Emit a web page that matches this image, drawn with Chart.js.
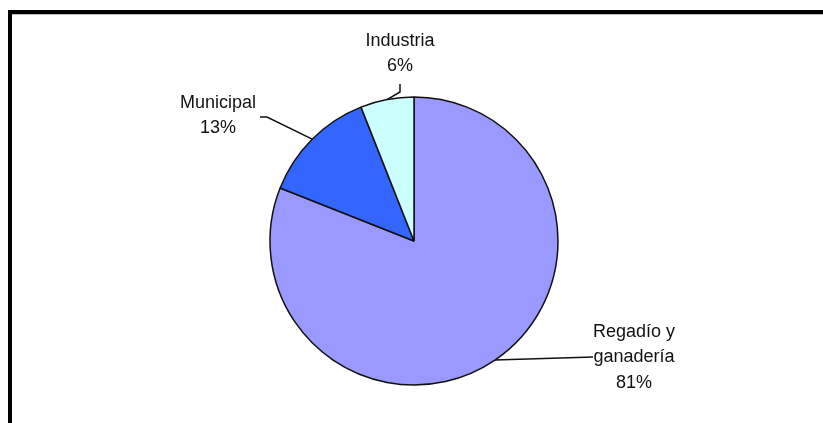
<!DOCTYPE html>
<html lang="es">
<head>
    <meta charset="UTF-8">
    <title>Usos del agua</title>
    <script src="https://cdn.jsdelivr.net/npm/chart.js"></script>
    <style>
        html, body {
            margin: 0;
            padding: 0;
            background: #ffffff;
        }
        .wrap {
            position: relative;
            width: 823px;
            height: 423px;
        }
        .frame {
            position: absolute;
            left: 8px;
            top: 10px;
            right: 0;
            bottom: 0;
            border-top: 4px solid #000;
            border-left: 4px solid #000;
            box-shadow: inset 0 1px 0 #bbb;
        }
        canvas {
            position: absolute;
            left: 0;
            top: 0;
        }
    </style>
</head>
<body>
    <div class="wrap">
        <div class="frame"></div>
        <canvas id="myChart" width="823" height="423"></canvas>
    </div>

    <script>
        // Data
        const categories = ['Regadío y ganadería', 'Municipal', 'Industria'];
        const labelLines = [['Regadío y', 'ganadería'], ['Municipal'], ['Industria']];
        const shares = [81, 13, 6];
        const sliceColors = ['#9999ff', '#3366ff', '#ccffff'];

        // where each callout sits: elbow point, text centre, first text line y
        const callouts = [
            { elbow: null, end: [593, 357], textX: 634, textY: 332 },
            { elbow: [267, 117], end: [260, 117], textX: 218, textY: 103 },
            { elbow: [400, 92], end: [400, 84], textX: 400, textY: 41 }
        ];

        const calloutPlugin = {
            id: 'callouts',
            afterDatasetsDraw(chart) {
                const ctx = chart.ctx;
                const arcs = chart.getDatasetMeta(0).data;
                ctx.save();
                ctx.strokeStyle = '#111';
                ctx.lineWidth = 1.5;
                ctx.fillStyle = '#111';
                ctx.font = '18px "Liberation Sans", Arial, sans-serif';
                ctx.textAlign = 'center';
                ctx.textBaseline = 'middle';
                arcs.forEach((arc, i) => {
                    const p = arc.getProps(['x', 'y', 'startAngle', 'endAngle', 'outerRadius'], true);
                    const mid = (p.startAngle + p.endAngle) / 2;
                    const sx = p.x + Math.cos(mid) * p.outerRadius;
                    const sy = p.y + Math.sin(mid) * p.outerRadius;
                    const c = callouts[i];
                    ctx.beginPath();
                    ctx.moveTo(sx, sy);
                    if (c.elbow) ctx.lineTo(c.elbow[0], c.elbow[1]);
                    ctx.lineTo(c.end[0], c.end[1]);
                    ctx.stroke();
                    const lines = labelLines[i].concat([shares[i] + '%']);
                    lines.forEach((t, k) => {
                        ctx.fillText(t, c.textX, c.textY + k * 25.5);
                    });
                });
                ctx.restore();
            }
        };

        new Chart(document.getElementById('myChart'), {
            type: 'pie',
            data: {
                labels: categories,
                datasets: [{
                    data: shares,
                    backgroundColor: sliceColors,
                    borderColor: '#111',
                    borderWidth: 1.5,
                    radius: 144
                }]
            },
            options: {
                responsive: false,
                animation: false,
                layout: {
                    padding: { left: 5, right: 0, top: 59, bottom: 0 }
                },
                plugins: {
                    legend: { display: false },
                    tooltip: { enabled: false }
                }
            },
            plugins: [calloutPlugin]
        });
    </script>
</body>
</html>
